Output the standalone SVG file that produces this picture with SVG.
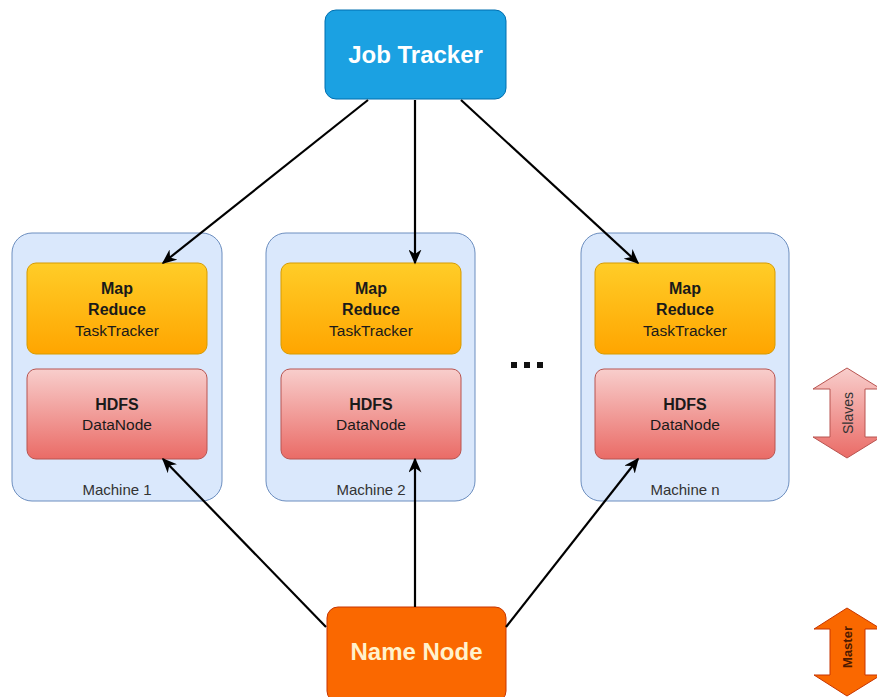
<svg xmlns="http://www.w3.org/2000/svg" width="877" height="697" viewBox="0 0 877 697">
<defs>
<linearGradient id="gY" x1="0" y1="0" x2="0" y2="1"><stop offset="0" stop-color="#ffcd28"/><stop offset="1" stop-color="#ffa500"/></linearGradient>
<linearGradient id="gR" x1="0" y1="0" x2="0" y2="1"><stop offset="0" stop-color="#f8cecc"/><stop offset="1" stop-color="#ea6b66"/></linearGradient>
<marker id="ah" viewBox="0 0 10 10" refX="9" refY="5" markerWidth="15" markerHeight="13" orient="auto" markerUnits="userSpaceOnUse" preserveAspectRatio="none">
<path d="M0,0 L10,5 L0,10 L3,5 Z" fill="#000"/>
</marker>
<style>
.machine{fill:#dae8fc;stroke:#6c8ebf;stroke-width:1}
.mr{fill:url(#gY);stroke:#d79b00;stroke-width:1}
.hd{fill:url(#gR);stroke:#b85450;stroke-width:1}
text{font-family:"Liberation Sans",Arial,sans-serif;text-anchor:middle}
.b{font-weight:bold;font-size:16px;fill:#1a1a1a}
.n{font-size:15.5px;fill:#1a1a1a}
.lbl{font-size:15px;fill:#333}
.conn{stroke:#000;stroke-width:2.2;fill:none}
</style>
</defs>

<g id="job-tracker">
<rect x="325" y="10" width="181" height="89" rx="11" fill="#1ba1e2" stroke="#006eaf"/>
<text x="415.5" y="63" font-size="24" font-weight="bold" fill="#ffffff">Job Tracker</text>
</g>

<g id="machine-1">
<rect class="machine" x="12" y="233" width="210" height="268" rx="20"/>
<rect class="mr" x="27" y="263" width="180" height="91" rx="9"/>
<text class="b" x="117" y="294">Map</text>
<text class="b" x="117" y="315">Reduce</text>
<text class="n" x="117" y="336">TaskTracker</text>
<rect class="hd" x="27" y="369" width="180" height="90" rx="9"/>
<text class="b" x="117" y="410">HDFS</text>
<text class="n" x="117" y="430">DataNode</text>
<text class="lbl" x="117" y="495">Machine 1</text>
</g>

<g id="machine-2">
<rect class="machine" x="266" y="233" width="209" height="268" rx="20"/>
<rect class="mr" x="281" y="263" width="180" height="91" rx="9"/>
<text class="b" x="371" y="294">Map</text>
<text class="b" x="371" y="315">Reduce</text>
<text class="n" x="371" y="336">TaskTracker</text>
<rect class="hd" x="281" y="369" width="180" height="90" rx="9"/>
<text class="b" x="371" y="410">HDFS</text>
<text class="n" x="371" y="430">DataNode</text>
<text class="lbl" x="371" y="495">Machine 2</text>
</g>

<g id="machine-n">
<rect class="machine" x="581" y="233" width="208" height="268" rx="20"/>
<rect class="mr" x="595" y="263" width="180" height="91" rx="9"/>
<text class="b" x="685" y="294">Map</text>
<text class="b" x="685" y="315">Reduce</text>
<text class="n" x="685" y="336">TaskTracker</text>
<rect class="hd" x="595" y="369" width="180" height="90" rx="9"/>
<text class="b" x="685" y="410">HDFS</text>
<text class="n" x="685" y="430">DataNode</text>
<text class="lbl" x="685" y="495">Machine n</text>
</g>

<g id="ellipsis">
<rect x="511" y="362" width="6" height="6" fill="#111"/>
<rect x="524" y="362" width="6" height="6" fill="#111"/>
<rect x="537" y="362" width="6" height="6" fill="#111"/>
</g>

<g id="name-node">
<rect x="327" y="607" width="179" height="95" rx="11" fill="#fa6800" stroke="#c73500"/>
<text x="416.5" y="660" font-size="24" font-weight="bold" fill="#fff2cc">Name Node</text>
</g>

<g id="slaves">
<path d="M847,368 L881,389 L865,389 L865,437 L881,437 L847,458 L813,437 L830,437 L830,389 L813,389 Z" fill="url(#gR)" stroke="#b85450"/>
<text transform="translate(853,413) rotate(-90)" font-size="14" fill="#333">Slaves</text>
</g>

<g id="master">
<path d="M847,608 L881,629 L865,629 L865,675 L881,675 L847,696 L814,675 L830,675 L830,629 L814,629 Z" fill="#fa6800" stroke="#c73500"/>
<text transform="translate(852,647) rotate(-90)" font-size="13" font-weight="bold" fill="#4d1a00">Master</text>
</g>

<g id="connectors">
<line class="conn" x1="368" y1="100" x2="163" y2="263" marker-end="url(#ah)"/>
<line class="conn" x1="415" y1="100" x2="415" y2="263" marker-end="url(#ah)"/>
<line class="conn" x1="461" y1="100" x2="638" y2="263" marker-end="url(#ah)"/>
<line class="conn" x1="326" y1="627" x2="163" y2="459" marker-end="url(#ah)"/>
<line class="conn" x1="415" y1="607" x2="415" y2="459" marker-end="url(#ah)"/>
<line class="conn" x1="506" y1="627" x2="638" y2="459" marker-end="url(#ah)"/>
</g>
</svg>
